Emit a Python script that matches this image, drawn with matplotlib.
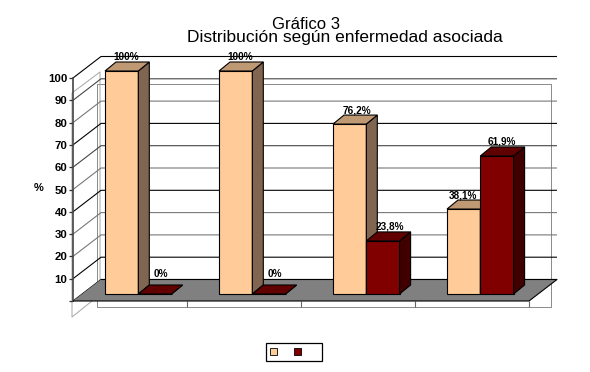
import matplotlib
matplotlib.use("Agg")
import matplotlib.pyplot as plt
from matplotlib.patches import Polygon, Patch

plt.rcParams['font.family'] = ['Liberation Sans', 'DejaVu Sans']

# ---- data ----
title_1 = "Gráfico 3"
title_2 = "Distribución según enfermedad asociada"
y_label = "%"
y_ticks = [0, 10, 20, 30, 40, 50, 60, 70, 80, 90, 100]
y_tick_labels = ["", "10", "20", "30", "40", "50", "60", "70", "80", "90", "100"]
light_values = [100, 100, 76.2, 38.1]
dark_values = [0, 0, 23.8, 61.9]
light_labels = ["100%", "100%", "76,2%", "38,1%"]
dark_labels = ["0%", "0%", "23,8%", "61,9%"]
light_colors = ("#FFCC99", "#806650", "#BF9973")
dark_colors = ("#800000", "#400000", "#600000")

# ---- geometry (pixels of the 590x372 picture) ----
W, H = 590, 372
L, R, Y0, Y100 = 73, 529, 301, 78
PX = 4 / (R - L)
PY = 100 / (Y0 - Y100)
DX, DY = 28, 21.5       # depth of the floor
BDX, BDY = 11, 9        # depth of a bar
BASE = 7 * PY           # bars stand a little behind the front edge
BAR_OFF, BAR_W = 32 * PX, 33.3 * PX

fig = plt.figure(figsize=(W / 100, H / 100), dpi=100, facecolor="white")
ax = fig.add_axes([L / W, 1 - Y0 / H, (R - L) / W, (Y0 - Y100) / H])
ax.set_xlim(0, 4)
ax.set_ylim(0, 100)
ax.patch.set_visible(False)
for s in ("top", "right", "bottom"):
    ax.spines[s].set_visible(False)
ax.spines["left"].set_color("#444444")
ax.spines["left"].set_linewidth(1.2)

def px(x, y):
    """picture pixels -> data"""
    return ((x - L) * PX, (Y0 - y) * PY)

def poly(pts, **kw):
    ax.add_patch(Polygon(pts, closed=True, clip_on=False, **kw))

def pline(xs, ys, color, lw=1.0, z=1):
    pts = [px(a, b) for a, b in zip(xs, ys)]
    ax.plot([p[0] for p in pts], [p[1] for p in pts], color=color,
            lw=lw * 0.72, clip_on=False, zorder=z, solid_capstyle="butt")

# outer gray frame
GRAY = "#8C8C8C"
pline([97, 551, 551, 97, 97], [84, 84, 307, 307, 84], GRAY, 1.0, 1)
pline([72, 72, 97], [93, 317, 297], "#A8A8A8", 1.0, 1)
pline([72, 100, 100], [93, 72, 280], "#A8A8A8", 1.0, 1)

# gridlines: back wall plus the diagonal on the side wall
grid_colors = ["#000000", "#000000", "#777777", "#777777", "#000000",
               "#777777", "#444444", "#000000", "#777777", "#444444", "#000000"]
for k, c in zip(range(0, 110, 10), grid_colors):
    yy = Y0 - k / PY
    pline([L, L + DX, R + DX], [yy, yy - DY, yy - DY], c, 1.1, 2)

# floor
poly([px(L, Y0), px(L + DX, Y0 - DY), px(R + DX, Y0 - DY), px(R, Y0)],
     facecolor="#808080", edgecolor="none", zorder=3)
pline([L + DX, R + DX, R, L], [Y0 - DY, Y0 - DY, Y0, Y0], "#000000", 1.1, 3)

# axis
ax.set_yticks(y_ticks)
ax.set_yticklabels(y_tick_labels)
ax.set_xticks([1, 2, 3, 4])
ax.set_xticklabels([])
ax.tick_params(axis="y", length=3, width=0.9, color="#333333", pad=1, labelsize=8.2)
ax.tick_params(axis="x", length=4, width=0.8, color="#666666")
for t in ax.get_yticklabels():
    t.set_fontweight("bold")
fig.text(39 / W, 1 - 188 / H, y_label, ha="center", va="center", fontsize=8, fontweight="bold")

def bar3d(x, val, cols, z):
    front, side, top = cols
    ax.bar(x, val, BAR_W, bottom=BASE, align="edge", color=front, edgecolor="black",
           linewidth=0.8, clip_on=False, zorder=z)
    ddx, ddy = BDX * PX, BDY * PY
    y0, y1 = BASE, BASE + val
    xr = x + BAR_W
    poly([(xr, y0), (xr + ddx, y0 + ddy), (xr + ddx, y1 + ddy), (xr, y1)],
         facecolor=side, edgecolor="black", linewidth=0.8, zorder=z)
    poly([(x, y1), (x + ddx, y1 + ddy), (xr + ddx, y1 + ddy), (xr, y1)],
         facecolor=top, edgecolor="black", linewidth=0.8, zorder=z)

label_nudge_light = [5, 5, 7, -1]
label_nudge_dark = [6, 6, 7, 5]
for i in range(4):
    xl = i + BAR_OFF
    xd = xl + BAR_W
    bar3d(xl, light_values[i], light_colors, 4 + i * 0.1)
    bar3d(xd, dark_values[i], dark_colors, 4.05 + i * 0.1)
    for x, v, lab, n in ((xl, light_values[i], light_labels[i], label_nudge_light[i]),
                         (xd, dark_values[i], dark_labels[i], label_nudge_dark[i])):
        extra = 6 if v == 0 else 0
        ax.annotate(lab, (x + BAR_W / 2, BASE + v), xytext=(n * 0.72, (14 + extra) * 0.72),
                    textcoords="offset points", ha="center", va="center",
                    fontsize=7.2, fontweight="bold", annotation_clip=False, zorder=6)

# titles
fig.text(306 / W, 1 - 24.5 / H, title_1, ha="center", va="center", fontsize=12)
fig.text(344.5 / W, 1 - 37.5 / H, title_2, ha="center", va="center", fontsize=12.5)

# legend (its entries have no text)
leg = ax.legend(handles=[Patch(facecolor=light_colors[0], edgecolor="black", linewidth=0.6),
                         Patch(facecolor=dark_colors[0], edgecolor="black", linewidth=0.6)],
                labels=["", ""], ncol=2, loc="lower left",
                bbox_to_anchor=((266.3 - L) / (R - L), (Y0 - 360.5) / (Y0 - Y100)),
                borderaxespad=0, fontsize=7.2, handlelength=0.7, handleheight=0.7,
                handletextpad=1.67, columnspacing=0, borderpad=0.4,
                fancybox=False, framealpha=1, edgecolor="black")
leg.get_frame().set_linewidth(0.9)
leg.set_zorder(7)

fig.savefig("out.png", dpi=100, facecolor="white")
